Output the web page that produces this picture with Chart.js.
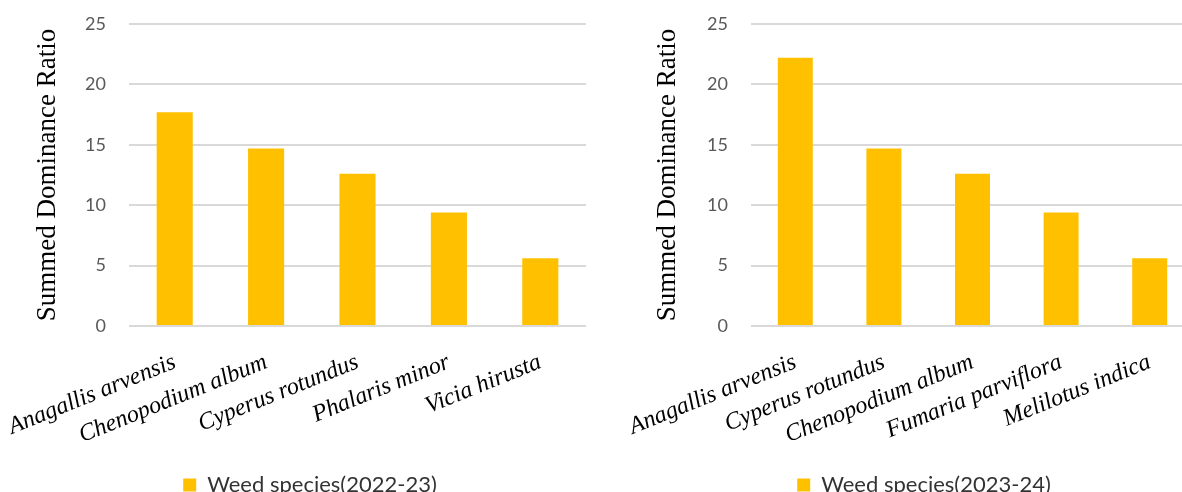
<!DOCTYPE html>
<html>
<head>
<meta charset="utf-8">
<script src="https://cdn.jsdelivr.net/npm/chart.js@4/dist/chart.umd.min.js"></script>
<style>
  html, body { margin: 0; padding: 0; background: #fff; overflow: hidden; width: 1182px; height: 492px; }
  .panel { position: absolute; top: 0; height: 492px; }
  #left { left: 0; width: 586px; }
  #right { left: 600px; width: 594px; }
</style>
</head>
<body>
<div class="panel" id="left"><canvas id="c1"></canvas></div>
<div class="panel" id="right"><canvas id="c2"></canvas></div>
<script>
// Weed species ranked by summed dominance ratio, two seasons
const species2022 = ['Anagallis arvensis', 'Chenopodium album', 'Cyperus rotundus', 'Phalaris minor', 'Vicia hirusta'];
const sdr2022 = [17.7, 14.7, 12.6, 9.4, 5.6];

const species2023 = ['Anagallis arvensis', 'Cyperus rotundus', 'Chenopodium album', 'Fumaria parviflora', 'Melilotus indica'];
const sdr2023 = [22.2, 14.7, 12.6, 9.4, 5.6];

const seriesLabels = ['Weed species(2022-23)', 'Weed species(2023-24)'];
const yTitle = 'Summed Dominance Ratio';
const yMax = 25;
const yStep = 5;

const BAR = '#FFC000';
const GRID = '#D9D9D9';

function makeChart(canvasId, labels, values, seriesName, padLeft, yWidth) {
  return new Chart(document.getElementById(canvasId), {
    type: 'bar',
    data: {
      labels: labels,
      datasets: [{
        label: seriesName,
        data: values,
        backgroundColor: BAR,
        borderWidth: 0,
        categoryPercentage: 1.0,
        barPercentage: 0.395
      }]
    },
    options: {
      responsive: true,
      maintainAspectRatio: false,
      animation: false,
      layout: { padding: { top: 24, bottom: -14, left: padLeft, right: 0 } },
      plugins: {
        tooltip: { enabled: false },
        legend: {
          position: 'bottom',
          labels: {
            boxWidth: 13,
            boxHeight: 13,
            padding: 6,
            color: '#333333',
            font: { family: 'Lato', size: 22 }
          }
        }
      },
      scales: {
        x: {
          grid: { display: false, drawTicks: false },
          border: { display: false },
          // the slanted names may hang past the plot edges without shrinking it
          afterFit: (scale) => {
            scale.height = 142;
            scale.paddingLeft = 0;
            scale.paddingRight = 0;
          },
          ticks: {
            minRotation: 22,
            maxRotation: 22,
            autoSkip: false,
            padding: 22,
            color: '#000000',
            font: { family: 'Liberation Serif', style: 'italic', size: 24 }
          }
        },
        y: {
          min: 0,
          max: yMax,
          afterFit: (scale) => {
            scale.width = yWidth;
            scale.paddingTop = 0;
            scale.paddingBottom = 0;
          },
          grid: { color: GRID, lineWidth: 2, drawTicks: false },
          border: { display: false },
          ticks: {
            stepSize: yStep,
            padding: 23,
            color: '#595959',
            font: { family: 'Lato', size: 18 }
          },
          title: {
            display: true,
            text: yTitle,
            color: '#000000',
            padding: { top: 0, bottom: 0 },
            font: { family: 'Liberation Serif', size: 27, lineHeight: 1.0 }
          }
        }
      }
    }
  });
}

makeChart('c1', species2022, sdr2022, seriesLabels[0], 34, 95);
makeChart('c2', species2023, sdr2023, seriesLabels[1], 54, 97);
</script>
</body>
</html>
